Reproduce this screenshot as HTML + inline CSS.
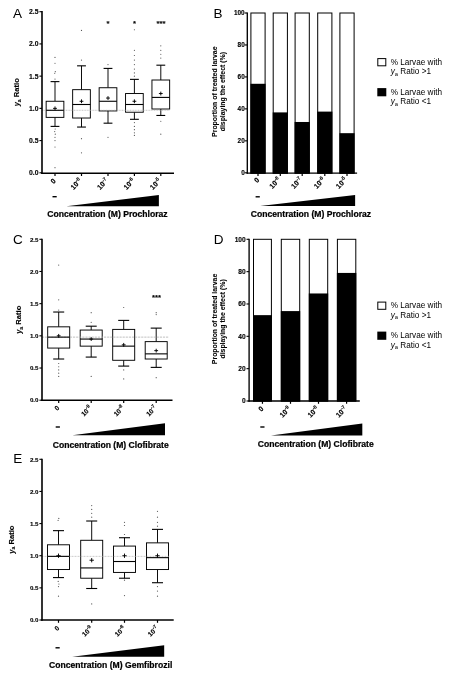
<!DOCTYPE html>
<html><head><meta charset="utf-8"><title>Figure</title>
<style>html,body{margin:0;padding:0;background:#fff;}body{width:450px;height:678px;overflow:hidden;}svg{display:block;will-change:transform;font-family:"Liberation Sans",sans-serif;}text{fill:#000;}text[font-weight=bold]{stroke:#000;stroke-width:0.12px;stroke-linejoin:round;}</style>
</head><body>
<svg width="450" height="678" viewBox="0 0 450 678">
<rect x="0" y="0" width="450" height="678" fill="#fff"/>
<text x="12.90" y="17.80" font-size="13.5" font-weight="normal" text-anchor="start" >A</text>
<line x1="55.00" y1="101.27" x2="55.00" y2="81.62" stroke="#000" stroke-width="0.95" />
<line x1="55.00" y1="117.38" x2="55.00" y2="126.40" stroke="#000" stroke-width="0.95" />
<line x1="50.58" y1="81.62" x2="59.42" y2="81.62" stroke="#000" stroke-width="1.1" />
<line x1="50.58" y1="126.40" x2="59.42" y2="126.40" stroke="#000" stroke-width="1.1" />
<rect x="46.15" y="101.27" width="17.70" height="16.11" fill="#fff" stroke="#000" stroke-width="0.95"/>
<circle cx="55.00" cy="57.45" r="0.6" fill="#555"/>
<circle cx="55.00" cy="63.25" r="0.6" fill="#555"/>
<circle cx="55.30" cy="71.63" r="0.6" fill="#555"/>
<circle cx="54.70" cy="73.24" r="0.6" fill="#555"/>
<circle cx="55.00" cy="79.04" r="0.6" fill="#555"/>
<circle cx="55.20" cy="128.98" r="0.6" fill="#555"/>
<circle cx="54.70" cy="131.56" r="0.6" fill="#555"/>
<circle cx="55.30" cy="134.14" r="0.6" fill="#555"/>
<circle cx="55.00" cy="137.36" r="0.6" fill="#555"/>
<circle cx="55.00" cy="140.58" r="0.6" fill="#555"/>
<circle cx="55.00" cy="147.02" r="0.6" fill="#555"/>
<circle cx="55.00" cy="167.64" r="0.6" fill="#555"/>
<line x1="81.50" y1="89.67" x2="81.50" y2="65.83" stroke="#000" stroke-width="0.95" />
<line x1="81.50" y1="118.03" x2="81.50" y2="127.05" stroke="#000" stroke-width="0.95" />
<line x1="77.08" y1="65.83" x2="85.92" y2="65.83" stroke="#000" stroke-width="1.1" />
<line x1="77.08" y1="127.05" x2="85.92" y2="127.05" stroke="#000" stroke-width="1.1" />
<rect x="72.65" y="89.67" width="17.70" height="28.35" fill="#fff" stroke="#000" stroke-width="0.95"/>
<circle cx="81.50" cy="30.39" r="0.6" fill="#555"/>
<circle cx="81.50" cy="60.03" r="0.6" fill="#555"/>
<circle cx="81.50" cy="138.65" r="0.6" fill="#555"/>
<circle cx="81.50" cy="152.82" r="0.6" fill="#555"/>
<line x1="108.00" y1="87.74" x2="108.00" y2="68.41" stroke="#000" stroke-width="0.95" />
<line x1="108.00" y1="110.94" x2="108.00" y2="123.18" stroke="#000" stroke-width="0.95" />
<line x1="103.58" y1="68.41" x2="112.42" y2="68.41" stroke="#000" stroke-width="1.1" />
<line x1="103.58" y1="123.18" x2="112.42" y2="123.18" stroke="#000" stroke-width="1.1" />
<rect x="99.15" y="87.74" width="17.70" height="23.20" fill="#fff" stroke="#000" stroke-width="0.95"/>
<circle cx="108.00" cy="64.54" r="0.6" fill="#555"/>
<circle cx="108.00" cy="137.36" r="0.6" fill="#555"/>
<line x1="134.40" y1="93.54" x2="134.40" y2="79.36" stroke="#000" stroke-width="0.95" />
<line x1="134.40" y1="112.23" x2="134.40" y2="119.31" stroke="#000" stroke-width="0.95" />
<line x1="129.97" y1="79.36" x2="138.83" y2="79.36" stroke="#000" stroke-width="1.1" />
<line x1="129.97" y1="119.31" x2="138.83" y2="119.31" stroke="#000" stroke-width="1.1" />
<rect x="125.55" y="93.54" width="17.70" height="18.69" fill="#fff" stroke="#000" stroke-width="0.95"/>
<circle cx="134.40" cy="29.74" r="0.6" fill="#555"/>
<circle cx="134.40" cy="50.36" r="0.6" fill="#555"/>
<circle cx="134.40" cy="55.52" r="0.6" fill="#555"/>
<circle cx="134.40" cy="60.03" r="0.6" fill="#555"/>
<circle cx="134.40" cy="64.54" r="0.6" fill="#555"/>
<circle cx="134.40" cy="69.05" r="0.6" fill="#555"/>
<circle cx="134.40" cy="72.92" r="0.6" fill="#555"/>
<circle cx="134.40" cy="76.14" r="0.6" fill="#555"/>
<circle cx="134.40" cy="122.54" r="0.6" fill="#555"/>
<circle cx="134.40" cy="126.40" r="0.6" fill="#555"/>
<circle cx="134.40" cy="129.63" r="0.6" fill="#555"/>
<circle cx="134.40" cy="132.85" r="0.6" fill="#555"/>
<circle cx="134.40" cy="135.42" r="0.6" fill="#555"/>
<line x1="160.80" y1="80.01" x2="160.80" y2="65.19" stroke="#000" stroke-width="0.95" />
<line x1="160.80" y1="109.00" x2="160.80" y2="115.45" stroke="#000" stroke-width="0.95" />
<line x1="156.38" y1="65.19" x2="165.23" y2="65.19" stroke="#000" stroke-width="1.1" />
<line x1="156.38" y1="115.45" x2="165.23" y2="115.45" stroke="#000" stroke-width="1.1" />
<rect x="151.95" y="80.01" width="17.70" height="29.00" fill="#fff" stroke="#000" stroke-width="0.95"/>
<circle cx="160.80" cy="45.85" r="0.6" fill="#555"/>
<circle cx="160.80" cy="50.36" r="0.6" fill="#555"/>
<circle cx="160.80" cy="54.23" r="0.6" fill="#555"/>
<circle cx="160.80" cy="58.10" r="0.6" fill="#555"/>
<circle cx="160.80" cy="121.25" r="0.6" fill="#555"/>
<circle cx="160.80" cy="134.14" r="0.6" fill="#555"/>
<line x1="42.00" y1="110.29" x2="170.00" y2="110.29" stroke="#a8a8a8" stroke-width="0.65" stroke-dasharray="1.0 0.6"/>
<line x1="46.15" y1="110.29" x2="63.85" y2="110.29" stroke="#000" stroke-width="1.1" />
<line x1="53.10" y1="108.36" x2="56.90" y2="108.36" stroke="#000" stroke-width="0.95" />
<line x1="55.00" y1="106.46" x2="55.00" y2="110.26" stroke="#000" stroke-width="0.95" />
<line x1="72.65" y1="104.49" x2="90.35" y2="104.49" stroke="#000" stroke-width="1.1" />
<line x1="79.60" y1="101.27" x2="83.40" y2="101.27" stroke="#000" stroke-width="0.95" />
<line x1="81.50" y1="99.37" x2="81.50" y2="103.17" stroke="#000" stroke-width="0.95" />
<line x1="99.15" y1="101.27" x2="116.85" y2="101.27" stroke="#000" stroke-width="1.1" />
<line x1="106.10" y1="98.05" x2="109.90" y2="98.05" stroke="#000" stroke-width="0.95" />
<line x1="108.00" y1="96.15" x2="108.00" y2="99.95" stroke="#000" stroke-width="0.95" />
<line x1="125.55" y1="104.49" x2="143.25" y2="104.49" stroke="#000" stroke-width="1.1" />
<line x1="132.50" y1="101.27" x2="136.30" y2="101.27" stroke="#000" stroke-width="0.95" />
<line x1="134.40" y1="99.37" x2="134.40" y2="103.17" stroke="#000" stroke-width="0.95" />
<line x1="151.95" y1="97.41" x2="169.65" y2="97.41" stroke="#000" stroke-width="1.1" />
<line x1="158.90" y1="93.54" x2="162.70" y2="93.54" stroke="#000" stroke-width="0.95" />
<line x1="160.80" y1="91.64" x2="160.80" y2="95.44" stroke="#000" stroke-width="0.95" />
<line x1="42.00" y1="11.10" x2="42.00" y2="173.95" stroke="#000" stroke-width="1.6" />
<line x1="41.20" y1="173.20" x2="174.00" y2="173.20" stroke="#000" stroke-width="1.5" />
<line x1="39.40" y1="172.80" x2="42.00" y2="172.80" stroke="#000" stroke-width="1.1" />
<text x="38.50" y="175.25" font-size="6.8" font-weight="bold" text-anchor="end" >0.0</text>
<line x1="39.40" y1="140.58" x2="42.00" y2="140.58" stroke="#000" stroke-width="1.1" />
<text x="38.50" y="143.03" font-size="6.8" font-weight="bold" text-anchor="end" >0.5</text>
<line x1="39.40" y1="108.36" x2="42.00" y2="108.36" stroke="#000" stroke-width="1.1" />
<text x="38.50" y="110.81" font-size="6.8" font-weight="bold" text-anchor="end" >1.0</text>
<line x1="39.40" y1="76.14" x2="42.00" y2="76.14" stroke="#000" stroke-width="1.1" />
<text x="38.50" y="78.59" font-size="6.8" font-weight="bold" text-anchor="end" >1.5</text>
<line x1="39.40" y1="43.92" x2="42.00" y2="43.92" stroke="#000" stroke-width="1.1" />
<text x="38.50" y="46.37" font-size="6.8" font-weight="bold" text-anchor="end" >2.0</text>
<line x1="39.40" y1="11.70" x2="42.00" y2="11.70" stroke="#000" stroke-width="1.1" />
<text x="38.50" y="14.15" font-size="6.8" font-weight="bold" text-anchor="end" >2.5</text>
<line x1="55.00" y1="173.20" x2="55.00" y2="176.00" stroke="#000" stroke-width="1.2" />
<text transform="translate(56.30,181.40) rotate(-45)" font-size="7.1" font-weight="bold" text-anchor="end">0</text>
<line x1="81.50" y1="173.20" x2="81.50" y2="176.00" stroke="#000" stroke-width="1.2" />
<text transform="translate(82.30,181.40) rotate(-45)" font-size="7.1" font-weight="bold" text-anchor="end">10<tspan font-size="5" dy="-2.9">-8</tspan></text>
<line x1="108.00" y1="173.20" x2="108.00" y2="176.00" stroke="#000" stroke-width="1.2" />
<text transform="translate(108.80,181.40) rotate(-45)" font-size="7.1" font-weight="bold" text-anchor="end">10<tspan font-size="5" dy="-2.9">-7</tspan></text>
<line x1="134.40" y1="173.20" x2="134.40" y2="176.00" stroke="#000" stroke-width="1.2" />
<text transform="translate(135.20,181.40) rotate(-45)" font-size="7.1" font-weight="bold" text-anchor="end">10<tspan font-size="5" dy="-2.9">-6</tspan></text>
<line x1="160.80" y1="173.20" x2="160.80" y2="176.00" stroke="#000" stroke-width="1.2" />
<text transform="translate(161.60,181.40) rotate(-45)" font-size="7.1" font-weight="bold" text-anchor="end">10<tspan font-size="5" dy="-2.9">-5</tspan></text>
<text x="108.00" y="25.70" font-size="7.6" font-weight="bold" text-anchor="middle" >*</text>
<text x="134.50" y="25.70" font-size="7.6" font-weight="bold" text-anchor="middle" >*</text>
<text x="161.00" y="25.70" font-size="7.6" font-weight="bold" text-anchor="middle" >***</text>
<text transform="translate(19.30,92.25) rotate(-90)" font-size="7.6" font-weight="bold" text-anchor="middle"><tspan font-style="italic">y</tspan><tspan font-size="5.17" dy="1.4">a</tspan><tspan dy="-1.4"> Ratio</tspan></text>
<line x1="52.50" y1="196.70" x2="56.70" y2="196.70" stroke="#000" stroke-width="1.4" />
<polygon points="66.40,206.30 158.90,194.90 158.90,206.30" fill="#000"/>
<text x="107.50" y="216.80" font-size="8.6" font-weight="bold" text-anchor="middle" style="stroke-width:0.22px">Concentration (M) Prochloraz</text>
<text x="213.50" y="17.60" font-size="13.5" font-weight="normal" text-anchor="start" >B</text>
<rect x="250.90" y="13.00" width="14.20" height="160.15" fill="#fff" stroke="#000" stroke-width="1"/>
<rect x="250.40" y="83.79" width="15.20" height="89.86" fill="#000"/>
<rect x="273.20" y="13.00" width="14.20" height="160.15" fill="#fff" stroke="#000" stroke-width="1"/>
<rect x="272.70" y="112.40" width="15.20" height="61.25" fill="#000"/>
<rect x="295.10" y="13.00" width="14.20" height="160.15" fill="#fff" stroke="#000" stroke-width="1"/>
<rect x="294.60" y="121.98" width="15.20" height="51.67" fill="#000"/>
<rect x="317.70" y="13.00" width="14.20" height="160.15" fill="#fff" stroke="#000" stroke-width="1"/>
<rect x="317.20" y="111.60" width="15.20" height="62.05" fill="#000"/>
<rect x="339.90" y="13.00" width="14.20" height="160.15" fill="#fff" stroke="#000" stroke-width="1"/>
<rect x="339.40" y="133.17" width="15.20" height="40.48" fill="#000"/>
<line x1="247.30" y1="12.40" x2="247.30" y2="173.85" stroke="#000" stroke-width="1.35" />
<line x1="246.60" y1="173.15" x2="357.10" y2="173.15" stroke="#000" stroke-width="1.4" />
<line x1="244.70" y1="172.80" x2="247.30" y2="172.80" stroke="#000" stroke-width="1.1" />
<text x="244.70" y="175.17" font-size="6.4" font-weight="bold" text-anchor="end" >0</text>
<line x1="244.70" y1="140.84" x2="247.30" y2="140.84" stroke="#000" stroke-width="1.1" />
<text x="244.70" y="143.21" font-size="6.4" font-weight="bold" text-anchor="end" >20</text>
<line x1="244.70" y1="108.88" x2="247.30" y2="108.88" stroke="#000" stroke-width="1.1" />
<text x="244.70" y="111.25" font-size="6.4" font-weight="bold" text-anchor="end" >40</text>
<line x1="244.70" y1="76.92" x2="247.30" y2="76.92" stroke="#000" stroke-width="1.1" />
<text x="244.70" y="79.29" font-size="6.4" font-weight="bold" text-anchor="end" >60</text>
<line x1="244.70" y1="44.96" x2="247.30" y2="44.96" stroke="#000" stroke-width="1.1" />
<text x="244.70" y="47.33" font-size="6.4" font-weight="bold" text-anchor="end" >80</text>
<line x1="244.70" y1="13.00" x2="247.30" y2="13.00" stroke="#000" stroke-width="1.1" />
<text x="244.70" y="15.37" font-size="6.4" font-weight="bold" text-anchor="end" >100</text>
<line x1="258.00" y1="173.15" x2="258.00" y2="175.95" stroke="#000" stroke-width="1.2" />
<text transform="translate(259.80,180.40) rotate(-45)" font-size="7.1" font-weight="bold" text-anchor="end">0</text>
<line x1="280.30" y1="173.15" x2="280.30" y2="175.95" stroke="#000" stroke-width="1.2" />
<text transform="translate(280.90,180.40) rotate(-45)" font-size="7.1" font-weight="bold" text-anchor="end">10<tspan font-size="5" dy="-2.9">-8</tspan></text>
<line x1="302.20" y1="173.15" x2="302.20" y2="175.95" stroke="#000" stroke-width="1.2" />
<text transform="translate(302.80,180.40) rotate(-45)" font-size="7.1" font-weight="bold" text-anchor="end">10<tspan font-size="5" dy="-2.9">-7</tspan></text>
<line x1="324.80" y1="173.15" x2="324.80" y2="175.95" stroke="#000" stroke-width="1.2" />
<text transform="translate(325.40,180.40) rotate(-45)" font-size="7.1" font-weight="bold" text-anchor="end">10<tspan font-size="5" dy="-2.9">-6</tspan></text>
<line x1="347.00" y1="173.15" x2="347.00" y2="175.95" stroke="#000" stroke-width="1.2" />
<text transform="translate(347.60,180.40) rotate(-45)" font-size="7.1" font-weight="bold" text-anchor="end">10<tspan font-size="5" dy="-2.9">-5</tspan></text>
<text transform="translate(217.20,91.70) rotate(-90)" font-size="6.9" font-weight="bold" text-anchor="middle" style="stroke-width:0.08px">Proportion of treated larvae</text>
<text transform="translate(225.10,91.70) rotate(-90)" font-size="6.9" font-weight="bold" text-anchor="middle" style="stroke-width:0.08px">displaying the effect (%)</text>
<line x1="255.60" y1="196.80" x2="259.80" y2="196.80" stroke="#000" stroke-width="1.4" />
<polygon points="260.20,206.10 355.10,195.00 355.10,206.10" fill="#000"/>
<text x="311.00" y="216.50" font-size="8.6" font-weight="bold" text-anchor="middle" style="stroke-width:0.22px">Concentration (M) Prochloraz</text>
<rect x="377.80" y="58.60" width="8.0" height="7.2" fill="#fff" stroke="#000" stroke-width="1"/>
<text x="390.70" y="64.80" font-size="8.2" font-weight="normal" text-anchor="start" >% Larvae with</text>
<text x="390.70" y="74.10" font-size="8.2" font-weight="normal" text-anchor="start" ><tspan font-style="italic">y</tspan><tspan font-size="5.8" dy="1.5">a</tspan><tspan dy="-1.5"> Ratio &gt;1</tspan></text>
<rect x="377.30" y="88.10" width="9.0" height="8.2" fill="#000"/>
<text x="390.70" y="94.80" font-size="8.2" font-weight="normal" text-anchor="start" >% Larvae with</text>
<text x="390.70" y="104.10" font-size="8.2" font-weight="normal" text-anchor="start" ><tspan font-style="italic">y</tspan><tspan font-size="5.8" dy="1.5">a</tspan><tspan dy="-1.5"> Ratio &lt;1</tspan></text>
<text x="13.00" y="244.30" font-size="13.5" font-weight="normal" text-anchor="start" >C</text>
<line x1="58.70" y1="326.83" x2="58.70" y2="312.03" stroke="#000" stroke-width="0.95" />
<line x1="58.70" y1="348.07" x2="58.70" y2="359.01" stroke="#000" stroke-width="0.95" />
<line x1="53.20" y1="312.03" x2="64.20" y2="312.03" stroke="#000" stroke-width="1.1" />
<line x1="53.20" y1="359.01" x2="64.20" y2="359.01" stroke="#000" stroke-width="1.1" />
<rect x="47.70" y="326.83" width="22.00" height="21.24" fill="#fff" stroke="#000" stroke-width="0.95"/>
<circle cx="58.70" cy="265.04" r="0.6" fill="#555"/>
<circle cx="58.70" cy="299.80" r="0.6" fill="#555"/>
<circle cx="58.70" cy="310.10" r="0.6" fill="#555"/>
<circle cx="58.70" cy="363.51" r="0.6" fill="#555"/>
<circle cx="58.70" cy="366.73" r="0.6" fill="#555"/>
<circle cx="58.70" cy="369.95" r="0.6" fill="#555"/>
<circle cx="58.70" cy="373.17" r="0.6" fill="#555"/>
<circle cx="58.70" cy="376.39" r="0.6" fill="#555"/>
<line x1="91.20" y1="330.05" x2="91.20" y2="326.19" stroke="#000" stroke-width="0.95" />
<line x1="91.20" y1="346.14" x2="91.20" y2="357.08" stroke="#000" stroke-width="0.95" />
<line x1="85.70" y1="326.19" x2="96.70" y2="326.19" stroke="#000" stroke-width="1.1" />
<line x1="85.70" y1="357.08" x2="96.70" y2="357.08" stroke="#000" stroke-width="1.1" />
<rect x="80.20" y="330.05" width="22.00" height="16.09" fill="#fff" stroke="#000" stroke-width="0.95"/>
<circle cx="91.20" cy="312.67" r="0.6" fill="#555"/>
<circle cx="91.20" cy="322.32" r="0.6" fill="#555"/>
<circle cx="91.20" cy="376.39" r="0.6" fill="#555"/>
<line x1="123.70" y1="329.40" x2="123.70" y2="320.39" stroke="#000" stroke-width="0.95" />
<line x1="123.70" y1="360.30" x2="123.70" y2="366.09" stroke="#000" stroke-width="0.95" />
<line x1="118.20" y1="320.39" x2="129.20" y2="320.39" stroke="#000" stroke-width="1.1" />
<line x1="118.20" y1="366.09" x2="129.20" y2="366.09" stroke="#000" stroke-width="1.1" />
<rect x="112.70" y="329.40" width="22.00" height="30.89" fill="#fff" stroke="#000" stroke-width="0.95"/>
<circle cx="123.70" cy="307.52" r="0.6" fill="#555"/>
<circle cx="123.70" cy="369.95" r="0.6" fill="#555"/>
<circle cx="123.70" cy="378.96" r="0.6" fill="#555"/>
<line x1="156.20" y1="341.63" x2="156.20" y2="328.12" stroke="#000" stroke-width="0.95" />
<line x1="156.20" y1="359.01" x2="156.20" y2="367.38" stroke="#000" stroke-width="0.95" />
<line x1="150.70" y1="328.12" x2="161.70" y2="328.12" stroke="#000" stroke-width="1.1" />
<line x1="150.70" y1="367.38" x2="161.70" y2="367.38" stroke="#000" stroke-width="1.1" />
<rect x="145.20" y="341.63" width="22.00" height="17.38" fill="#fff" stroke="#000" stroke-width="0.95"/>
<circle cx="156.20" cy="312.67" r="0.6" fill="#555"/>
<circle cx="156.20" cy="314.60" r="0.6" fill="#555"/>
<circle cx="156.20" cy="377.67" r="0.6" fill="#555"/>
<line x1="42.00" y1="337.13" x2="168.50" y2="337.13" stroke="#b0b0b0" stroke-width="0.8" stroke-dasharray="2.2 0.9"/>
<line x1="47.70" y1="337.13" x2="69.70" y2="337.13" stroke="#000" stroke-width="1.1" />
<line x1="56.80" y1="335.84" x2="60.60" y2="335.84" stroke="#000" stroke-width="0.95" />
<line x1="58.70" y1="333.94" x2="58.70" y2="337.74" stroke="#000" stroke-width="0.95" />
<line x1="80.20" y1="339.06" x2="102.20" y2="339.06" stroke="#000" stroke-width="1.1" />
<line x1="89.30" y1="339.06" x2="93.10" y2="339.06" stroke="#000" stroke-width="0.95" />
<line x1="91.20" y1="337.16" x2="91.20" y2="340.96" stroke="#000" stroke-width="0.95" />
<line x1="112.70" y1="346.14" x2="134.70" y2="346.14" stroke="#000" stroke-width="1.1" />
<line x1="121.80" y1="344.85" x2="125.60" y2="344.85" stroke="#000" stroke-width="0.95" />
<line x1="123.70" y1="342.95" x2="123.70" y2="346.75" stroke="#000" stroke-width="0.95" />
<line x1="145.20" y1="353.86" x2="167.20" y2="353.86" stroke="#000" stroke-width="1.1" />
<line x1="154.30" y1="350.64" x2="158.10" y2="350.64" stroke="#000" stroke-width="0.95" />
<line x1="156.20" y1="348.74" x2="156.20" y2="352.54" stroke="#000" stroke-width="0.95" />
<line x1="42.00" y1="238.70" x2="42.00" y2="400.95" stroke="#000" stroke-width="1.6" />
<line x1="41.20" y1="400.20" x2="172.50" y2="400.20" stroke="#000" stroke-width="1.5" />
<line x1="39.40" y1="400.20" x2="42.00" y2="400.20" stroke="#000" stroke-width="1.1" />
<text x="38.50" y="402.43" font-size="6.2" font-weight="bold" text-anchor="end" >0.0</text>
<line x1="39.40" y1="368.02" x2="42.00" y2="368.02" stroke="#000" stroke-width="1.1" />
<text x="38.50" y="370.25" font-size="6.2" font-weight="bold" text-anchor="end" >0.5</text>
<line x1="39.40" y1="335.84" x2="42.00" y2="335.84" stroke="#000" stroke-width="1.1" />
<text x="38.50" y="338.07" font-size="6.2" font-weight="bold" text-anchor="end" >1.0</text>
<line x1="39.40" y1="303.66" x2="42.00" y2="303.66" stroke="#000" stroke-width="1.1" />
<text x="38.50" y="305.89" font-size="6.2" font-weight="bold" text-anchor="end" >1.5</text>
<line x1="39.40" y1="271.48" x2="42.00" y2="271.48" stroke="#000" stroke-width="1.1" />
<text x="38.50" y="273.71" font-size="6.2" font-weight="bold" text-anchor="end" >2.0</text>
<line x1="39.40" y1="239.30" x2="42.00" y2="239.30" stroke="#000" stroke-width="1.1" />
<text x="38.50" y="241.53" font-size="6.2" font-weight="bold" text-anchor="end" >2.5</text>
<line x1="58.70" y1="400.20" x2="58.70" y2="403.00" stroke="#000" stroke-width="1.2" />
<text transform="translate(59.80,408.40) rotate(-45)" font-size="6.7" font-weight="bold" text-anchor="end">0</text>
<line x1="91.20" y1="400.20" x2="91.20" y2="403.00" stroke="#000" stroke-width="1.2" />
<text transform="translate(92.30,408.40) rotate(-45)" font-size="6.7" font-weight="bold" text-anchor="end">10<tspan font-size="5" dy="-2.9">-9</tspan></text>
<line x1="123.70" y1="400.20" x2="123.70" y2="403.00" stroke="#000" stroke-width="1.2" />
<text transform="translate(124.80,408.40) rotate(-45)" font-size="6.7" font-weight="bold" text-anchor="end">10<tspan font-size="5" dy="-2.9">-8</tspan></text>
<line x1="156.20" y1="400.20" x2="156.20" y2="403.00" stroke="#000" stroke-width="1.2" />
<text transform="translate(157.30,408.40) rotate(-45)" font-size="6.7" font-weight="bold" text-anchor="end">10<tspan font-size="5" dy="-2.9">-7</tspan></text>
<text x="156.50" y="299.70" font-size="7.6" font-weight="bold" text-anchor="middle" >***</text>
<text transform="translate(21.20,319.75) rotate(-90)" font-size="7.6" font-weight="bold" text-anchor="middle"><tspan font-style="italic">y</tspan><tspan font-size="5.17" dy="1.4">a</tspan><tspan dy="-1.4"> Ratio</tspan></text>
<line x1="55.70" y1="427.00" x2="59.90" y2="427.00" stroke="#000" stroke-width="1.4" />
<polygon points="72.40,435.30 165.00,423.30 165.00,435.30" fill="#000"/>
<text x="110.70" y="447.60" font-size="8.6" font-weight="bold" text-anchor="middle" style="stroke-width:0.22px">Concentration (M) Clofibrate</text>
<text x="213.80" y="244.00" font-size="13.5" font-weight="normal" text-anchor="start" >D</text>
<rect x="253.50" y="239.30" width="17.90" height="161.70" fill="#fff" stroke="#000" stroke-width="1"/>
<rect x="253.00" y="315.14" width="18.90" height="86.36" fill="#000"/>
<rect x="281.30" y="239.30" width="18.40" height="161.70" fill="#fff" stroke="#000" stroke-width="1"/>
<rect x="280.80" y="311.09" width="19.40" height="90.41" fill="#000"/>
<rect x="309.30" y="239.30" width="18.40" height="161.70" fill="#fff" stroke="#000" stroke-width="1"/>
<rect x="308.80" y="293.47" width="19.40" height="108.03" fill="#000"/>
<rect x="337.40" y="239.30" width="18.40" height="161.70" fill="#fff" stroke="#000" stroke-width="1"/>
<rect x="336.90" y="272.93" width="19.40" height="128.57" fill="#000"/>
<line x1="249.10" y1="238.70" x2="249.10" y2="401.70" stroke="#000" stroke-width="1.35" />
<line x1="248.40" y1="401.00" x2="359.80" y2="401.00" stroke="#000" stroke-width="1.4" />
<line x1="246.50" y1="401.00" x2="249.10" y2="401.00" stroke="#000" stroke-width="1.1" />
<text x="245.70" y="403.44" font-size="6.6" font-weight="bold" text-anchor="end" >0</text>
<line x1="246.50" y1="368.66" x2="249.10" y2="368.66" stroke="#000" stroke-width="1.1" />
<text x="245.70" y="371.10" font-size="6.6" font-weight="bold" text-anchor="end" >20</text>
<line x1="246.50" y1="336.32" x2="249.10" y2="336.32" stroke="#000" stroke-width="1.1" />
<text x="245.70" y="338.76" font-size="6.6" font-weight="bold" text-anchor="end" >40</text>
<line x1="246.50" y1="303.98" x2="249.10" y2="303.98" stroke="#000" stroke-width="1.1" />
<text x="245.70" y="306.42" font-size="6.6" font-weight="bold" text-anchor="end" >60</text>
<line x1="246.50" y1="271.64" x2="249.10" y2="271.64" stroke="#000" stroke-width="1.1" />
<text x="245.70" y="274.08" font-size="6.6" font-weight="bold" text-anchor="end" >80</text>
<line x1="246.50" y1="239.30" x2="249.10" y2="239.30" stroke="#000" stroke-width="1.1" />
<text x="245.70" y="241.74" font-size="6.6" font-weight="bold" text-anchor="end" >100</text>
<line x1="262.45" y1="401.00" x2="262.45" y2="403.80" stroke="#000" stroke-width="1.2" />
<text transform="translate(263.95,409.20) rotate(-45)" font-size="7.1" font-weight="bold" text-anchor="end">0</text>
<line x1="290.50" y1="401.00" x2="290.50" y2="403.80" stroke="#000" stroke-width="1.2" />
<text transform="translate(291.30,409.20) rotate(-45)" font-size="7.1" font-weight="bold" text-anchor="end">10<tspan font-size="5" dy="-2.9">-9</tspan></text>
<line x1="318.50" y1="401.00" x2="318.50" y2="403.80" stroke="#000" stroke-width="1.2" />
<text transform="translate(319.30,409.20) rotate(-45)" font-size="7.1" font-weight="bold" text-anchor="end">10<tspan font-size="5" dy="-2.9">-8</tspan></text>
<line x1="346.60" y1="401.00" x2="346.60" y2="403.80" stroke="#000" stroke-width="1.2" />
<text transform="translate(347.40,409.20) rotate(-45)" font-size="7.1" font-weight="bold" text-anchor="end">10<tspan font-size="5" dy="-2.9">-7</tspan></text>
<text transform="translate(217.20,318.95) rotate(-90)" font-size="6.9" font-weight="bold" text-anchor="middle" style="stroke-width:0.08px">Proportion of treated larvae</text>
<text transform="translate(225.10,318.95) rotate(-90)" font-size="6.9" font-weight="bold" text-anchor="middle" style="stroke-width:0.08px">displaying the effect (%)</text>
<line x1="260.30" y1="427.00" x2="264.50" y2="427.00" stroke="#000" stroke-width="1.4" />
<polygon points="271.00,435.50 362.30,423.40 362.30,435.50" fill="#000"/>
<text x="315.70" y="447.40" font-size="8.6" font-weight="bold" text-anchor="middle" style="stroke-width:0.22px">Concentration (M) Clofibrate</text>
<rect x="377.80" y="302.10" width="8.0" height="7.2" fill="#fff" stroke="#000" stroke-width="1"/>
<text x="390.70" y="308.30" font-size="8.2" font-weight="normal" text-anchor="start" >% Larvae with</text>
<text x="390.70" y="317.60" font-size="8.2" font-weight="normal" text-anchor="start" ><tspan font-style="italic">y</tspan><tspan font-size="5.8" dy="1.5">a</tspan><tspan dy="-1.5"> Ratio &gt;1</tspan></text>
<rect x="377.30" y="331.60" width="9.0" height="8.2" fill="#000"/>
<text x="390.70" y="338.30" font-size="8.2" font-weight="normal" text-anchor="start" >% Larvae with</text>
<text x="390.70" y="347.60" font-size="8.2" font-weight="normal" text-anchor="start" ><tspan font-style="italic">y</tspan><tspan font-size="5.8" dy="1.5">a</tspan><tspan dy="-1.5"> Ratio &lt;1</tspan></text>
<text x="13.20" y="463.10" font-size="13.5" font-weight="normal" text-anchor="start" >E</text>
<line x1="58.50" y1="544.79" x2="58.50" y2="530.65" stroke="#000" stroke-width="0.95" />
<line x1="58.50" y1="569.54" x2="58.50" y2="577.58" stroke="#000" stroke-width="0.95" />
<line x1="53.00" y1="530.65" x2="64.00" y2="530.65" stroke="#000" stroke-width="1.1" />
<line x1="53.00" y1="577.58" x2="64.00" y2="577.58" stroke="#000" stroke-width="1.1" />
<rect x="47.50" y="544.79" width="22.00" height="24.75" fill="#fff" stroke="#000" stroke-width="0.95"/>
<circle cx="58.80" cy="518.44" r="0.6" fill="#555"/>
<circle cx="58.10" cy="520.37" r="0.6" fill="#555"/>
<circle cx="58.20" cy="581.43" r="0.6" fill="#555"/>
<circle cx="58.90" cy="584.00" r="0.6" fill="#555"/>
<circle cx="58.50" cy="586.57" r="0.6" fill="#555"/>
<circle cx="58.50" cy="596.22" r="0.6" fill="#555"/>
<line x1="91.70" y1="540.29" x2="91.70" y2="521.01" stroke="#000" stroke-width="0.95" />
<line x1="91.70" y1="578.22" x2="91.70" y2="588.50" stroke="#000" stroke-width="0.95" />
<line x1="86.20" y1="521.01" x2="97.20" y2="521.01" stroke="#000" stroke-width="1.1" />
<line x1="86.20" y1="588.50" x2="97.20" y2="588.50" stroke="#000" stroke-width="1.1" />
<rect x="80.70" y="540.29" width="22.00" height="37.93" fill="#fff" stroke="#000" stroke-width="0.95"/>
<circle cx="91.70" cy="505.58" r="0.6" fill="#555"/>
<circle cx="91.70" cy="509.44" r="0.6" fill="#555"/>
<circle cx="91.70" cy="513.30" r="0.6" fill="#555"/>
<circle cx="91.70" cy="517.15" r="0.6" fill="#555"/>
<circle cx="91.70" cy="603.93" r="0.6" fill="#555"/>
<line x1="124.50" y1="546.08" x2="124.50" y2="537.72" stroke="#000" stroke-width="0.95" />
<line x1="124.50" y1="572.43" x2="124.50" y2="578.22" stroke="#000" stroke-width="0.95" />
<line x1="119.00" y1="537.72" x2="130.00" y2="537.72" stroke="#000" stroke-width="1.1" />
<line x1="119.00" y1="578.22" x2="130.00" y2="578.22" stroke="#000" stroke-width="1.1" />
<rect x="113.50" y="546.08" width="22.00" height="26.35" fill="#fff" stroke="#000" stroke-width="0.95"/>
<circle cx="124.50" cy="522.29" r="0.6" fill="#555"/>
<circle cx="124.50" cy="525.51" r="0.6" fill="#555"/>
<circle cx="124.50" cy="534.51" r="0.6" fill="#555"/>
<circle cx="124.50" cy="580.15" r="0.6" fill="#555"/>
<circle cx="124.50" cy="595.57" r="0.6" fill="#555"/>
<line x1="157.50" y1="542.86" x2="157.50" y2="529.37" stroke="#000" stroke-width="0.95" />
<line x1="157.50" y1="569.54" x2="157.50" y2="582.72" stroke="#000" stroke-width="0.95" />
<line x1="152.00" y1="529.37" x2="163.00" y2="529.37" stroke="#000" stroke-width="1.1" />
<line x1="152.00" y1="582.72" x2="163.00" y2="582.72" stroke="#000" stroke-width="1.1" />
<rect x="146.50" y="542.86" width="22.00" height="26.68" fill="#fff" stroke="#000" stroke-width="0.95"/>
<circle cx="157.50" cy="511.37" r="0.6" fill="#555"/>
<circle cx="157.50" cy="517.15" r="0.6" fill="#555"/>
<circle cx="157.50" cy="522.29" r="0.6" fill="#555"/>
<circle cx="157.50" cy="526.15" r="0.6" fill="#555"/>
<circle cx="157.50" cy="586.57" r="0.6" fill="#555"/>
<circle cx="157.50" cy="591.07" r="0.6" fill="#555"/>
<circle cx="157.50" cy="596.22" r="0.6" fill="#555"/>
<line x1="42.00" y1="556.36" x2="169.70" y2="556.36" stroke="#aaaaaa" stroke-width="0.6" stroke-dasharray="1.0 0.5"/>
<line x1="47.50" y1="556.36" x2="69.50" y2="556.36" stroke="#000" stroke-width="1.1" />
<line x1="56.35" y1="555.72" x2="60.65" y2="555.72" stroke="#000" stroke-width="0.95" />
<line x1="58.50" y1="553.57" x2="58.50" y2="557.87" stroke="#000" stroke-width="0.95" />
<line x1="80.70" y1="567.93" x2="102.70" y2="567.93" stroke="#000" stroke-width="1.1" />
<line x1="89.55" y1="560.22" x2="93.85" y2="560.22" stroke="#000" stroke-width="0.95" />
<line x1="91.70" y1="558.07" x2="91.70" y2="562.37" stroke="#000" stroke-width="0.95" />
<line x1="113.50" y1="561.51" x2="135.50" y2="561.51" stroke="#000" stroke-width="1.1" />
<line x1="122.35" y1="555.72" x2="126.65" y2="555.72" stroke="#000" stroke-width="0.95" />
<line x1="124.50" y1="553.57" x2="124.50" y2="557.87" stroke="#000" stroke-width="0.95" />
<line x1="146.50" y1="557.65" x2="168.50" y2="557.65" stroke="#000" stroke-width="1.1" />
<line x1="155.35" y1="555.72" x2="159.65" y2="555.72" stroke="#000" stroke-width="0.95" />
<line x1="157.50" y1="553.57" x2="157.50" y2="557.87" stroke="#000" stroke-width="0.95" />
<line x1="42.00" y1="458.70" x2="42.00" y2="620.75" stroke="#000" stroke-width="1.6" />
<line x1="41.20" y1="620.00" x2="173.70" y2="620.00" stroke="#000" stroke-width="1.5" />
<line x1="39.40" y1="620.00" x2="42.00" y2="620.00" stroke="#000" stroke-width="1.1" />
<text x="38.50" y="622.23" font-size="6.2" font-weight="bold" text-anchor="end" >0.0</text>
<line x1="39.40" y1="587.86" x2="42.00" y2="587.86" stroke="#000" stroke-width="1.1" />
<text x="38.50" y="590.09" font-size="6.2" font-weight="bold" text-anchor="end" >0.5</text>
<line x1="39.40" y1="555.72" x2="42.00" y2="555.72" stroke="#000" stroke-width="1.1" />
<text x="38.50" y="557.95" font-size="6.2" font-weight="bold" text-anchor="end" >1.0</text>
<line x1="39.40" y1="523.58" x2="42.00" y2="523.58" stroke="#000" stroke-width="1.1" />
<text x="38.50" y="525.81" font-size="6.2" font-weight="bold" text-anchor="end" >1.5</text>
<line x1="39.40" y1="491.44" x2="42.00" y2="491.44" stroke="#000" stroke-width="1.1" />
<text x="38.50" y="493.67" font-size="6.2" font-weight="bold" text-anchor="end" >2.0</text>
<line x1="39.40" y1="459.30" x2="42.00" y2="459.30" stroke="#000" stroke-width="1.1" />
<text x="38.50" y="461.53" font-size="6.2" font-weight="bold" text-anchor="end" >2.5</text>
<line x1="58.50" y1="620.00" x2="58.50" y2="622.80" stroke="#000" stroke-width="1.2" />
<text transform="translate(60.00,628.70) rotate(-45)" font-size="6.7" font-weight="bold" text-anchor="end">0</text>
<line x1="91.70" y1="620.00" x2="91.70" y2="622.80" stroke="#000" stroke-width="1.2" />
<text transform="translate(93.20,628.70) rotate(-45)" font-size="6.7" font-weight="bold" text-anchor="end">10<tspan font-size="5" dy="-2.9">-9</tspan></text>
<line x1="124.50" y1="620.00" x2="124.50" y2="622.80" stroke="#000" stroke-width="1.2" />
<text transform="translate(126.00,628.70) rotate(-45)" font-size="6.7" font-weight="bold" text-anchor="end">10<tspan font-size="5" dy="-2.9">-8</tspan></text>
<line x1="157.50" y1="620.00" x2="157.50" y2="622.80" stroke="#000" stroke-width="1.2" />
<text transform="translate(159.00,628.70) rotate(-45)" font-size="6.7" font-weight="bold" text-anchor="end">10<tspan font-size="5" dy="-2.9">-7</tspan></text>
<text transform="translate(14.00,539.65) rotate(-90)" font-size="7.6" font-weight="bold" text-anchor="middle"><tspan font-style="italic">y</tspan><tspan font-size="5.17" dy="1.4">a</tspan><tspan dy="-1.4"> Ratio</tspan></text>
<line x1="55.50" y1="647.80" x2="59.70" y2="647.80" stroke="#000" stroke-width="1.4" />
<polygon points="72.20,656.80 164.20,645.20 164.20,656.80" fill="#000"/>
<text x="110.70" y="668.20" font-size="8.6" font-weight="bold" text-anchor="middle" style="stroke-width:0.22px">Concentration (M) Gemfibrozil</text>
</svg>
</body></html>
